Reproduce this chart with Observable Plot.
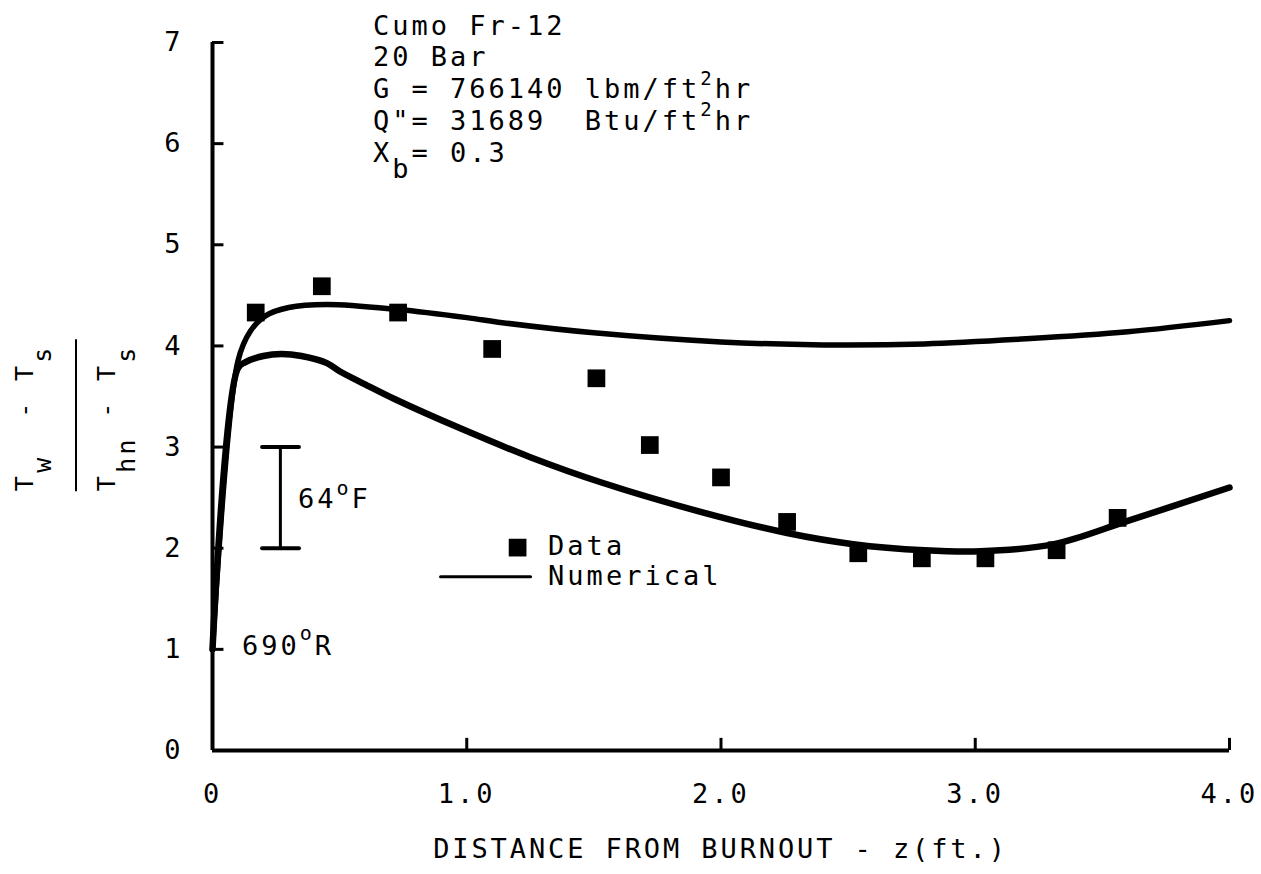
<!DOCTYPE html>
<html>
<head>
<meta charset="utf-8">
<script src="https://cdn.jsdelivr.net/npm/d3@7"></script>
<script src="https://cdn.jsdelivr.net/npm/@observablehq/plot@0.6"></script>
<style>
  html, body { margin: 0; padding: 0; background: #fff; }
</style>
</head>
<body>
<div id="chart"></div>
<script>
// Axis ticks
const xTicks = [0, 1, 2, 3, 4];
const yTicks = [0, 1, 2, 3, 4, 5, 6, 7];

// Measured wall temperature ratio vs distance from burnout (ft)
const dataZ     = [0.17, 0.43, 0.73, 1.10, 1.51, 1.72, 2.00, 2.26, 2.54, 2.79, 3.04, 3.32, 3.56];
const dataRatio = [4.33, 4.59, 4.33, 3.97, 3.68, 3.02, 2.70, 2.26, 1.95, 1.90, 1.90, 1.98, 2.30];

// Numerical prediction, upper branch
const upperZ     = [0, 0.10, 0.15, 0.21, 0.30, 0.45, 0.73, 1.00, 1.14, 1.50, 2.00, 2.40, 2.80, 3.20, 3.60, 4.00];
const upperRatio = [1.00, 3.85, 4.15, 4.30, 4.38, 4.41, 4.36, 4.28, 4.23, 4.13, 4.04, 4.01, 4.02, 4.07, 4.14, 4.25];

// Numerical prediction, lower branch
const lowerZ     = [0, 0.10, 0.13, 0.20, 0.27, 0.35, 0.45, 0.50, 0.60, 0.72, 0.97, 1.25, 1.53, 1.92, 2.26, 2.52, 2.80, 3.02, 3.31, 3.60, 4.00];
const lowerRatio = [1.00, 3.78, 3.84, 3.90, 3.92, 3.90, 3.83, 3.75, 3.62, 3.47, 3.19, 2.90, 2.65, 2.36, 2.15, 2.04, 1.98, 1.97, 2.04, 2.27, 2.60];

// Scale bar: one ratio unit corresponds to 64 °F
const scaleBarZ = 0.267;
const scaleBarRange = [2, 3];

// Legend placement (data units)
const legendSquare = {z: 1.2, r: 2.006};
const legendLine = [{z: 0.897, r: 1.719}, {z: 1.251, r: 1.719}];

const FONT = "'DejaVu Sans Mono', monospace";

const measured = dataZ.map((z, i) => ({z, r: dataRatio[i]}));
const upper = upperZ.map((z, i) => ({z, r: upperRatio[i]}));
const lower = lowerZ.map((z, i) => ({z, r: lowerRatio[i]}));

const plot = Plot.plot({
  width: 1261,
  height: 874,
  marginLeft: 212,
  marginRight: 32,
  marginTop: 42,
  marginBottom: 124,
  x: {domain: [0, 4], label: null},
  y: {domain: [0, 7], label: null},
  style: {fontFamily: FONT, fontSize: "27px", letterSpacing: "3px", background: "#fff", color: "#000", overflow: "visible"},
  marks: [
    Plot.axisX(xTicks, {tickSize: 0, tickPadding: 33, fontSize: 27, label: null,
      tickFormat: d => d === 0 ? "0" : d.toFixed(1)}),
    Plot.axisY(yTicks, {tickSize: 0, tickPadding: 29, fontSize: 27, label: null,
      tickFormat: d => String(d)}),
    // axis lines and inward ticks
    Plot.ruleX([0], {y1: 0, y2: 7, strokeWidth: 4}),
    Plot.ruleY([0], {x1: 0, x2: 4, strokeWidth: 4}),
    Plot.ruleX(xTicks.slice(1), {y1: 0, y2: 0.12, strokeWidth: 3}),
    Plot.ruleY(yTicks.slice(1), {x1: 0, x2: 0.045, strokeWidth: 3}),
    // numerical curves
    Plot.line(upper, {x: "z", y: "r", curve: "catmull-rom", strokeWidth: 5.5, strokeLinecap: "round"}),
    Plot.line(lower, {x: "z", y: "r", curve: "catmull-rom", strokeWidth: 6.5, strokeLinecap: "round"}),
    // measured points
    Plot.dot(measured, {x: "z", y: "r", symbol: "square", r: 10, fill: "#000", stroke: null}),
    // temperature scale bar
    Plot.ruleX([scaleBarZ], {y1: scaleBarRange[0], y2: scaleBarRange[1], strokeWidth: 3}),
    Plot.ruleY(scaleBarRange, {x1: scaleBarZ - 0.07, x2: scaleBarZ + 0.075, strokeWidth: 4, strokeLinecap: "round"}),
    // legend keys
    Plot.dot([legendSquare], {x: "z", y: "r", symbol: "square", r: 10, fill: "#000", stroke: null}),
    Plot.line(legendLine, {x: "z", y: "r", strokeWidth: 3})
  ]
});

document.getElementById("chart").appendChild(plot);

// Rich text (super/subscripts) drawn on top of the plot
const sx = plot.scale("x"), sy = plot.scale("y");
const g = d3.select(plot).append("g").attr("font-family", FONT).attr("fill", "#000");

function rich(parent, x, y, parts, {size = 27, spacing = 3, anchor = "start", transform} = {}) {
  const t = parent.append("text")
    .attr("x", x).attr("y", y)
    .attr("font-size", size)
    .attr("letter-spacing", spacing)
    .attr("text-anchor", anchor)
    .style("white-space", "pre");
  if (transform) t.attr("transform", transform);
  let cur = 0;
  for (const p of parts) {
    const s = typeof p === "string" ? {t: p} : p;
    const off = s.sup ? -s.sup : (s.sub || 0);
    const span = t.append("tspan").text(s.t);
    if (off !== cur) span.attr("dy", off - cur);
    if (s.size) span.attr("font-size", s.size);
    cur = off;
  }
  return t;
}

// Run conditions
const bx = 373;
rich(g, bx, 35, ["Cumo Fr-12"]);
rich(g, bx, 66, ["20 Bar"]);
rich(g, bx, 98, ["G = 766140 lbm/ft", {t: "2", sup: 13, size: 19}, "hr"]);
rich(g, bx, 130, ['Q"= 31689  Btu/ft', {t: "2", sup: 14, size: 19}, "hr"]);
rich(g, bx, 162, ["X", {t: "b", sub: 16}, "= 0.3"]);

// Scale bar and reference temperature labels
rich(g, sx.apply(0.338), sy.apply(2.5) + 11, ["64", {t: "o", sup: 13, size: 20}, "F"]);
rich(g, sx.apply(0.118), sy.apply(1.0) + 6, ["690", {t: "o", sup: 15, size: 20}, "R"]);

// Legend labels
rich(g, sx.apply(1.322), sy.apply(legendSquare.r) + 8, ["Data"]);
rich(g, sx.apply(1.322), sy.apply(legendLine[0].r) + 9, ["Numerical"]);

// x-axis title
rich(g, (sx.range[0] + sx.range[1]) / 2, 858, ["DISTANCE FROM BURNOUT - z(ft.)"], {anchor: "middle", spacing: 2.9});

// y-axis title: (Tw - Ts) / (Thn - Ts), rotated
const yMid = sy.apply(3.3);
rich(g, 0, 0, ["T", {t: "w", sub: 18}, "  - T", {t: "s", sub: 18}],
  {size: 25, spacing: 3.3, transform: `translate(33,${yMid + 75}) rotate(-90)`});
rich(g, 0, 0, ["T", {t: "hn", sub: 20}, " - T", {t: "s", sub: 20}],
  {size: 25, spacing: 3.3, transform: `translate(115,${yMid + 75}) rotate(-90)`});
g.append("line")
  .attr("x1", 76).attr("x2", 76)
  .attr("y1", yMid - 77).attr("y2", yMid + 75)
  .attr("stroke", "#000").attr("stroke-width", 2);
</script>
</body>
</html>
